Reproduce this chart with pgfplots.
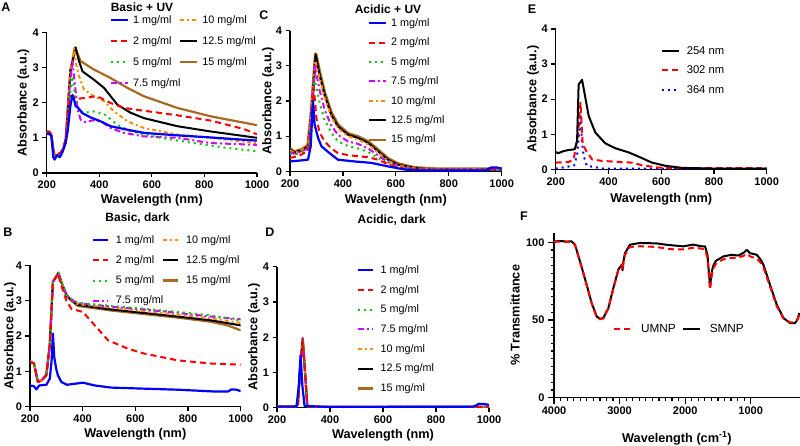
\documentclass[border=0pt]{standalone}
\usepackage{fontspec}
\setmainfont{Liberation Sans}
\usepackage{pgfplots}
\pgfplotsset{compat=1.18}
\definecolor{cB}{RGB}{0,0,255}
\definecolor{cR}{RGB}{255,0,0}
\definecolor{cG}{RGB}{0,204,0}
\definecolor{cM}{RGB}{210,0,255}
\definecolor{cO}{RGB}{255,140,0}
\definecolor{cK}{RGB}{0,0,0}
\definecolor{cBr}{RGB}{168,106,32}
\tikzset{
  s1/.style={cB, line width=2.2pt, solid},
  s2/.style={cR, line width=2pt, dash pattern=on 6pt off 4pt},
  s5/.style={cG, line width=2pt, dash pattern=on 2pt off 4pt},
  s75/.style={cM, line width=2pt, dash pattern=on 6pt off 3pt on 2pt off 3pt},
  s10/.style={cO, line width=2pt, dash pattern=on 4pt off 3pt on 2pt off 3pt},
  s125/.style={cK, line width=2pt, solid},
  s15/.style={cBr, line width=2.2pt, solid},
}
\newcommand{\fs}[1]{\fontsize{#1}{#1}\selectfont}
\pgfplotsset{
  panel/.style={
    scale only axis, anchor=south west,
    axis x line*=bottom, axis y line*=left,
    axis line style={line width=1.3pt,-},
    tick style={black, line width=1.2pt},
    major tick length=4.5pt, minor tick length=3pt,
    tick align=outside,
    tick label style={font=\fs{11}\bfseries},
    /pgf/number format/assume math mode=true,
    /pgf/number format/1000 sep={},
    label style={font=\fs{12.7}\bfseries},
    legend image code/.code={\draw[##1] (0pt,0pt) -- (17pt,0pt);},
    legend style={draw=none, fill=none, font=\fs{10.8}, inner sep=0pt, outer sep=0pt, anchor=north west,
      nodes={inner sep=1pt}, row sep=7.8pt,
      /tikz/every odd column/.style={column sep=3pt},
      /tikz/every even column/.style={column sep=5pt}},
    legend cell align=left,
    every axis plot/.append style={line join=round},
  },
  uv/.style={panel, xmin=200, xmax=1000, ymin=0, ymax=4, xtick={200,400,600,800,1000}, ytick={0,1,2,3,4},
    xlabel={Wavelength (nm)}, ylabel={Absorbance (a.u.)}},
}
\begin{document}
\begin{tikzpicture}[x=1pt,y=1pt]
\useasboundingbox (0,0) rectangle (800,446);

% ---------------- A ----------------
\begin{axis}[uv, at={(46.7pt,273pt)}, width=210.3pt, height=140.7pt,
  xlabel style={at={([yshift=-27.5pt]axis description cs:0.5,0)}, anchor=center},
  ylabel style={at={([xshift=-23.4pt]axis description cs:0,0.5)}, anchor=center},
  legend columns=2, legend style={at={(0.301,1.1265)}, row sep=9.6pt}]
\addplot[s15, forget plot] coordinates {(200,1.12) (210,1.12) (218,1.05) (228,0.5) (245,0.52) (260,0.62) (272,0.9) (290,2.9) (308,3.57) (329,3.18) (380,2.94) (443,2.7) (507,2.42) (570,2.18) (697,1.85) (824,1.61) (1000,1.36)};
\addplot[s125, forget plot] coordinates {(200,1.12) (210,1.12) (218,1.05) (228,0.5) (245,0.52) (260,0.62) (272,0.9) (290,2.9) (310,3.57) (322,3.2) (336,2.89) (380,2.65) (418,2.42) (469,1.94) (520,1.71) (570,1.56) (697,1.33) (824,1.18) (1000,1.0)};
\addplot[s10, forget plot] coordinates {(200,1.15) (210,1.15) (218,1.08) (228,0.5) (245,0.5) (260,0.6) (272,0.9) (288,2.8) (304,3.55) (312,3.1) (323,2.75) (342,2.37) (380,2.18) (418,2.04) (456,1.75) (507,1.47) (570,1.28) (697,1.09) (824,1.0) (1000,0.85)};
\addplot[s75, forget plot] coordinates {(200,1.15) (210,1.15) (218,1.08) (228,0.5) (245,0.5) (260,0.6) (272,0.9) (285,2.3) (298,3.18) (306,2.6) (318,1.8) (330,1.5) (345,1.45) (380,1.5) (410,1.45) (443,1.28) (494,1.14) (570,1.04) (697,1.0) (824,0.85) (1000,0.8)};
\addplot[s5, forget plot] coordinates {(200,1.15) (210,1.15) (218,1.08) (228,0.5) (245,0.5) (260,0.6) (272,0.9) (285,2.0) (298,2.75) (306,2.3) (315,1.9) (325,1.75) (350,1.72) (380,1.75) (418,1.68) (469,1.37) (520,1.18) (634,1.0) (760,0.85) (887,0.71) (1000,0.62)};
\addplot[s2, forget plot] coordinates {(200,1.18) (210,1.18) (218,1.1) (225,0.6) (232,0.55) (245,0.55) (255,0.6) (270,0.9) (280,1.5) (289,2.2) (300,2.15) (310,2.1) (330,2.12) (360,2.15) (385,2.18) (400,2.15) (443,1.99) (494,1.85) (570,1.77) (697,1.64) (824,1.49) (950,1.25) (1000,1.1)};
\addplot[s1, forget plot] coordinates {(200,1.12) (210,1.12) (218,1.05) (225,0.45) (230,0.38) (240,0.5) (250,0.45) (260,0.6) (272,0.85) (280,1.2) (290,1.9) (298,2.22) (302,2.15) (310,1.9) (320,1.85) (336,1.7) (367,1.58) (405,1.47) (443,1.33) (507,1.23) (570,1.14) (697,1.07) (824,1.01) (1000,0.92)};
\addlegendimage{s1}\addlegendentry{\makebox[40pt][l]{1 mg/ml}}
\addlegendimage{s10}\addlegendentry{10 mg/ml}
\addlegendimage{s2}\addlegendentry{\makebox[40pt][l]{2 mg/ml}}
\addlegendimage{s125}\addlegendentry{12.5 mg/ml}
\addlegendimage{s5}\addlegendentry{\makebox[40pt][l]{5 mg/ml}}
\addlegendimage{s15}\addlegendentry{15 mg/ml}
\addlegendimage{s75}\addlegendentry{\makebox[40pt][l]{7.5 mg/ml}}
\end{axis}

% ---------------- B ----------------
\begin{axis}[uv, at={(30pt,39.3pt)}, width=210.7pt, height=141.4pt,
  xlabel style={at={([yshift=-28pt]axis description cs:0.5,0)}, anchor=center},
  ylabel style={at={([xshift=-20pt]axis description cs:0,0.5)}, anchor=center},
  legend image code/.code={\draw[#1] (0pt,0pt) -- (15pt,0pt);},
  legend columns=2, legend style={at={(0.293,1.22)}, row sep=9pt,
    /tikz/every odd column/.style={column sep=6pt}}]
\addplot[s15, forget plot] coordinates {(200,1.28) (215,1.22) (230,0.7) (245,0.75) (262,0.89) (275,1.74) (287,3.53) (308,3.78) (320,3.5) (340,3.12) (360,2.98) (382,2.85) (509,2.72) (635,2.62) (762,2.52) (889,2.4) (950,2.3) (1000,2.16)};
\addplot[s125, forget plot] coordinates {(200,1.28) (215,1.22) (230,0.7) (245,0.75) (262,0.89) (275,1.74) (287,3.53) (308,3.78) (320,3.5) (340,3.13) (360,3.0) (382,2.88) (509,2.75) (635,2.65) (762,2.55) (889,2.44) (1000,2.3)};
\addplot[s10, forget plot] coordinates {(200,1.28) (215,1.22) (230,0.7) (245,0.75) (262,0.89) (275,1.74) (287,3.53) (308,3.78) (320,3.5) (340,3.14) (360,3.01) (382,2.9) (509,2.8) (635,2.7) (762,2.6) (889,2.5) (1000,2.37)};
\addplot[s75, forget plot] coordinates {(200,1.28) (215,1.22) (230,0.7) (245,0.75) (262,0.89) (275,1.74) (287,3.53) (308,3.78) (320,3.5) (340,3.15) (360,3.02) (382,2.93) (509,2.83) (635,2.75) (762,2.65) (889,2.55) (1000,2.47)};
\addplot[s5, forget plot] coordinates {(200,1.28) (215,1.22) (230,0.7) (245,0.75) (262,0.89) (275,1.74) (287,3.53) (308,3.8) (320,3.52) (340,3.16) (360,3.03) (382,2.94) (509,2.85) (635,2.77) (762,2.68) (889,2.58) (1000,2.44)};
\addplot[s2, forget plot] coordinates {(200,1.28) (215,1.22) (230,0.7) (245,0.75) (262,0.89) (275,1.74) (287,3.53) (306,3.76) (319,3.43) (338,3.0) (357,2.77) (401,2.68) (446,2.3) (496,1.88) (572,1.64) (635,1.5) (762,1.31) (889,1.22) (1000,1.19)};
\addplot[s1, forget plot] coordinates {(200,0.6) (215,0.58) (224,0.49) (235,0.6) (262,0.62) (275,0.79) (282,1.3) (287,2.07) (292,1.4) (300,1.05) (306,0.89) (319,0.7) (340,0.62) (401,0.68) (446,0.6) (509,0.54) (635,0.51) (762,0.48) (900,0.43) (952,0.43) (965,0.49) (985,0.48) (1000,0.44)};
\addlegendimage{s1}\addlegendentry{\makebox[40pt][l]{1 mg/ml}}
\addlegendimage{s10}\addlegendentry{10 mg/ml}
\addlegendimage{s2}\addlegendentry{\makebox[40pt][l]{2 mg/ml}}
\addlegendimage{s125}\addlegendentry{12.5 mg/ml}
\addlegendimage{s5}\addlegendentry{\makebox[40pt][l]{5 mg/ml}}
\addlegendimage{s15}\addlegendentry{15 mg/ml}
\addlegendimage{s75}\addlegendentry{\makebox[40pt][l]{7.5 mg/ml}}
\end{axis}

% ---------------- C ----------------
\begin{axis}[uv, at={(290pt,274.7pt)}, width=211.7pt, height=140.6pt,
  xlabel style={at={([yshift=-29pt]axis description cs:0.5,0)}, anchor=center},
  ylabel style={at={([xshift=-22pt]axis description cs:0,0.5)}, anchor=center},
  legend style={at={(0.368,1.094)}, row sep=8.1pt}]
\addplot[s15, line width=3.4pt, forget plot] coordinates {(200,0.64) (218,0.54) (230,0.59) (243,0.61) (268,0.73) (280,1.62) (297,3.34) (312,2.8) (331,2.22) (356,1.66) (381,1.32) (419,1.07) (457,0.98) (495,0.84) (533,0.6) (570,0.36) (608,0.21) (671,0.1) (760,0.06) (1000,0.06)};
\addplot[s125, forget plot] coordinates {(200,0.62) (218,0.52) (230,0.57) (243,0.59) (268,0.71) (280,1.6) (297,3.32) (312,2.75) (331,2.18) (356,1.61) (381,1.28) (419,1.04) (457,0.95) (495,0.81) (533,0.57) (570,0.33) (608,0.19) (671,0.09) (760,0.05) (1000,0.05)};
\addplot[s10, forget plot] coordinates {(200,0.6) (215,0.52) (230,0.55) (268,0.7) (283,2.0) (296,3.15) (312,2.65) (331,2.1) (356,1.55) (381,1.22) (419,1.0) (457,0.9) (495,0.77) (533,0.53) (570,0.3) (608,0.17) (671,0.08) (1000,0.05)};
\addplot[s75, forget plot] coordinates {(200,0.55) (215,0.5) (230,0.52) (268,0.65) (282,1.8) (294,3.0) (312,2.3) (331,1.75) (356,1.3) (381,1.04) (419,0.85) (457,0.78) (495,0.65) (533,0.45) (570,0.26) (608,0.14) (671,0.07) (1000,0.05)};
\addplot[s5, forget plot] coordinates {(200,0.5) (215,0.48) (230,0.5) (268,0.6) (280,1.5) (292,2.65) (312,1.95) (331,1.45) (356,1.1) (381,0.85) (419,0.72) (457,0.65) (495,0.55) (533,0.38) (570,0.22) (608,0.12) (671,0.06) (1000,0.05)};
\addplot[s2, forget plot] coordinates {(200,0.38) (230,0.43) (268,0.57) (280,1.2) (290,2.37) (300,1.5) (312,1.1) (331,0.85) (356,0.65) (381,0.52) (419,0.46) (457,0.43) (495,0.4) (533,0.33) (570,0.2) (608,0.1) (671,0.05) (940,0.03) (965,0.08) (1000,0.08)};
\addplot[s1, forget plot] coordinates {(200,0.28) (230,0.3) (268,0.33) (278,0.7) (287,2.0) (293,1.33) (306,0.95) (319,0.71) (344,0.55) (381,0.33) (444,0.28) (507,0.24) (570,0.14) (633,0.05) (700,0.02) (936,0.02) (961,0.11) (980,0.11) (1000,0.08)};
\addlegendimage{s1}\addlegendentry{1 mg/ml}
\addlegendimage{s2}\addlegendentry{2 mg/ml}
\addlegendimage{s5}\addlegendentry{5 mg/ml}
\addlegendimage{s75}\addlegendentry{7.5 mg/ml}
\addlegendimage{s10}\addlegendentry{10 mg/ml}
\addlegendimage{s125}\addlegendentry{12.5 mg/ml}
\addlegendimage{s15}\addlegendentry{15 mg/ml}
\end{axis}

% ---------------- D ----------------
\begin{axis}[uv, at={(277pt,38.3pt)}, width=212pt, height=141pt,
  xlabel style={at={([yshift=-28pt]axis description cs:0.5,0)}, anchor=center},
  ylabel style={at={([xshift=-23pt]axis description cs:0,0.5)}, anchor=center},
  legend image code/.code={\draw[#1] (0pt,0pt) -- (14.5pt,0pt);},
  legend style={at={(0.377,1.0156)}, row sep=8.4pt,
    /tikz/every odd column/.style={column sep=6pt}}]
\addplot[s15, forget plot] coordinates {(200,0.03) (270,0.03) (279,0.1) (288,1.2) (297,1.98) (306,1.0) (314,0.08) (320,0.02) (1000,0.02)};
\addplot[s125, forget plot] coordinates {(200,0.03) (270,0.03) (279,0.1) (288,1.2) (297,1.96) (306,1.0) (314,0.08) (320,0.02) (1000,0.02)};
\addplot[s10, forget plot] coordinates {(200,0.03) (270,0.03) (279,0.1) (288,1.2) (297,1.97) (306,1.0) (314,0.08) (320,0.02) (1000,0.02)};
\addplot[s75, forget plot] coordinates {(200,0.03) (270,0.03) (279,0.1) (288,1.2) (297,1.94) (306,1.0) (314,0.08) (320,0.02) (1000,0.02)};
\addplot[s5, forget plot] coordinates {(200,0.03) (270,0.03) (279,0.1) (288,1.2) (297,1.92) (306,1.0) (314,0.08) (320,0.02) (1000,0.02)};
\addplot[s2, forget plot] coordinates {(200,0.03) (270,0.03) (279,0.1) (288,1.2) (297,1.9) (306,1.0) (314,0.08) (320,0.02) (1000,0.02)};
\addplot[s1, forget plot] coordinates {(200,0.03) (265,0.03) (274,0.05) (282,0.6) (289,1.48) (296,0.6) (304,0.05) (400,0.02) (940,0.03) (950,0.06) (962,0.11) (985,0.1) (1000,0.08)};
\addlegendimage{s1}\addlegendentry{1 mg/ml}
\addlegendimage{s2}\addlegendentry{2 mg/ml}
\addlegendimage{s5}\addlegendentry{5 mg/ml}
\addlegendimage{s75}\addlegendentry{7.5 mg/ml}
\addlegendimage{s10}\addlegendentry{10 mg/ml}
\addlegendimage{s125}\addlegendentry{12.5 mg/ml}
\addlegendimage{s15}\addlegendentry{15 mg/ml}
\end{axis}

% ---------------- E ----------------
\begin{axis}[uv, at={(555.7pt,276.7pt)}, width=211pt, height=140.3pt,
  xlabel style={at={([yshift=-30pt]axis description cs:0.5,0)}, anchor=center},
  ylabel style={at={([xshift=-22.7pt]axis description cs:0,0.5)}, anchor=center},
  legend style={at={(0.498,0.8845)}, row sep=8.3pt, font=\fs{11.2},
    /tikz/every odd column/.style={column sep=6pt}}]
\addplot[s1, line width=2pt, dash pattern=on 2pt off 4pt, forget plot] coordinates {(200,0.02) (250,0.08) (270,0.11) (283,0.48) (294,1.57) (300,0.76) (306,0.38) (318,0.1) (380,0.02) (1000,0.02)};
\addplot[s2, forget plot] coordinates {(200,0.19) (250,0.21) (268,0.28) (285,1.0) (294,1.9) (302,0.76) (312,0.57) (338,0.28) (376,0.24) (439,0.21) (489,0.19) (530,0.11) (590,0.05) (650,0.03) (1000,0.03)};
\addplot[s125, forget plot] coordinates {(200,0.49) (210,0.46) (230,0.52) (249,0.55) (272,0.57) (281,0.81) (287,2.42) (295,2.5) (300,2.55) (310,2.14) (325,1.52) (350,1.05) (388,0.74) (426,0.6) (477,0.48) (515,0.36) (565,0.19) (616,0.1) (680,0.04) (800,0.02) (1000,0.02)};
\addlegendimage{s125}\addlegendentry{254 nm}
\addlegendimage{s2}\addlegendentry{302 nm}
\addlegendimage{cB, line width=2pt, dash pattern=on 2pt off 4pt}\addlegendentry{364 nm}
\end{axis}

% ---------------- F ----------------
\begin{axis}[panel, at={(554pt,48.3pt)}, width=245.9pt, height=164.7pt,
  x dir=reverse, xmin=250, xmax=4000, ymin=0, ymax=106,
  xtick={1000,2000,3000,4000}, ytick={0,50,100},
  minor x tick num=9, minor y tick num=9, major tick length=6pt,
  xlabel={Wavelength (cm\textsuperscript{-1})}, ylabel={\% Transmittance},
  xlabel style={at={([yshift=-40.6pt]axis description cs:0.5,0)}, anchor=center},
  ylabel style={at={([xshift=-39pt]axis description cs:0,0.5)}, anchor=center},
  legend columns=2, legend style={at={(0.24,0.4505)}, font=\fs{11.8},
    /tikz/every odd column/.style={column sep=8pt},
    /tikz/every even column/.style={column sep=5pt}}]
\addplot[s125, forget plot] coordinates {(4000,100.6) (3900,100.8) (3800,100.5) (3730,100.6) (3680,98.5) (3603,87.7) (3502,72.7) (3426,61) (3349,52.3) (3298,50.8) (3248,51.3) (3171,57.7) (3095,70.6) (3019,82.4) (2968,85.6) (2955,82) (2940,88) (2917,93.1) (2841,98.5) (2688,99.6) (2434,99.3) (2300,98.5) (2180,98) (2027,97.4) (1950,98) (1875,98.5) (1760,97.5) (1697,97.4) (1660,92) (1621,72) (1590,82) (1570,85) (1534,88) (1494,89) (1417,90.9) (1350,91.5) (1290,92) (1200,91.5) (1163,92) (1100,93.5) (1060,95.2) (1011,93) (909,92) (850,89) (807,85.6) (706,72.7) (604,59.9) (502,51.3) (401,48) (324,48) (290,50) (258,54.5)};
\addplot[s2, forget plot] coordinates {(4000,100.3) (3900,100.5) (3800,100.2) (3730,100.3) (3680,98.2) (3603,87.4) (3502,72.4) (3426,60.7) (3349,52) (3298,50.5) (3248,51) (3171,57.4) (3095,70.3) (3019,82.1) (2968,85.3) (2955,82) (2940,87.5) (2917,92) (2841,97) (2688,97.5) (2434,97) (2300,96) (2180,95.5) (2027,95.5) (1950,96) (1875,96.5) (1760,96) (1697,95.5) (1660,90) (1621,69.5) (1590,80) (1570,83) (1534,86) (1494,87.5) (1417,89) (1350,89.5) (1290,90) (1200,90) (1163,90.5) (1100,91.5) (1060,92.5) (1011,91) (909,89.5) (850,87) (807,84) (706,71.5) (604,59) (502,51) (401,48.5) (324,48.5) (290,50.5) (258,53)};
\addlegendimage{s2}\addlegendentry{UMNP}
\addlegendimage{s125}\addlegendentry{SMNP}
\end{axis}

% titles and panel letters
\node[font=\fs{12}\bfseries] at (142,439) {Basic + UV};
\node[font=\fs{12}\bfseries] at (137.5,228.3) {Basic, dark};
\node[font=\fs{12}\bfseries] at (388,436.7) {Acidic + UV};
\node[font=\fs{12}\bfseries] at (391.7,226) {Acidic, dark};
\node[font=\fs{12.5}\bfseries] at (6,439) {A};
\node[font=\fs{12.5}\bfseries] at (8,214) {B};
\node[font=\fs{12.5}\bfseries] at (264,431) {C};
\node[font=\fs{12.5}\bfseries] at (270,214) {D};
\node[font=\fs{12.5}\bfseries] at (532,437) {E};
\node[font=\fs{12.5}\bfseries] at (524,229.3) {F};
\end{tikzpicture}
\end{document}
